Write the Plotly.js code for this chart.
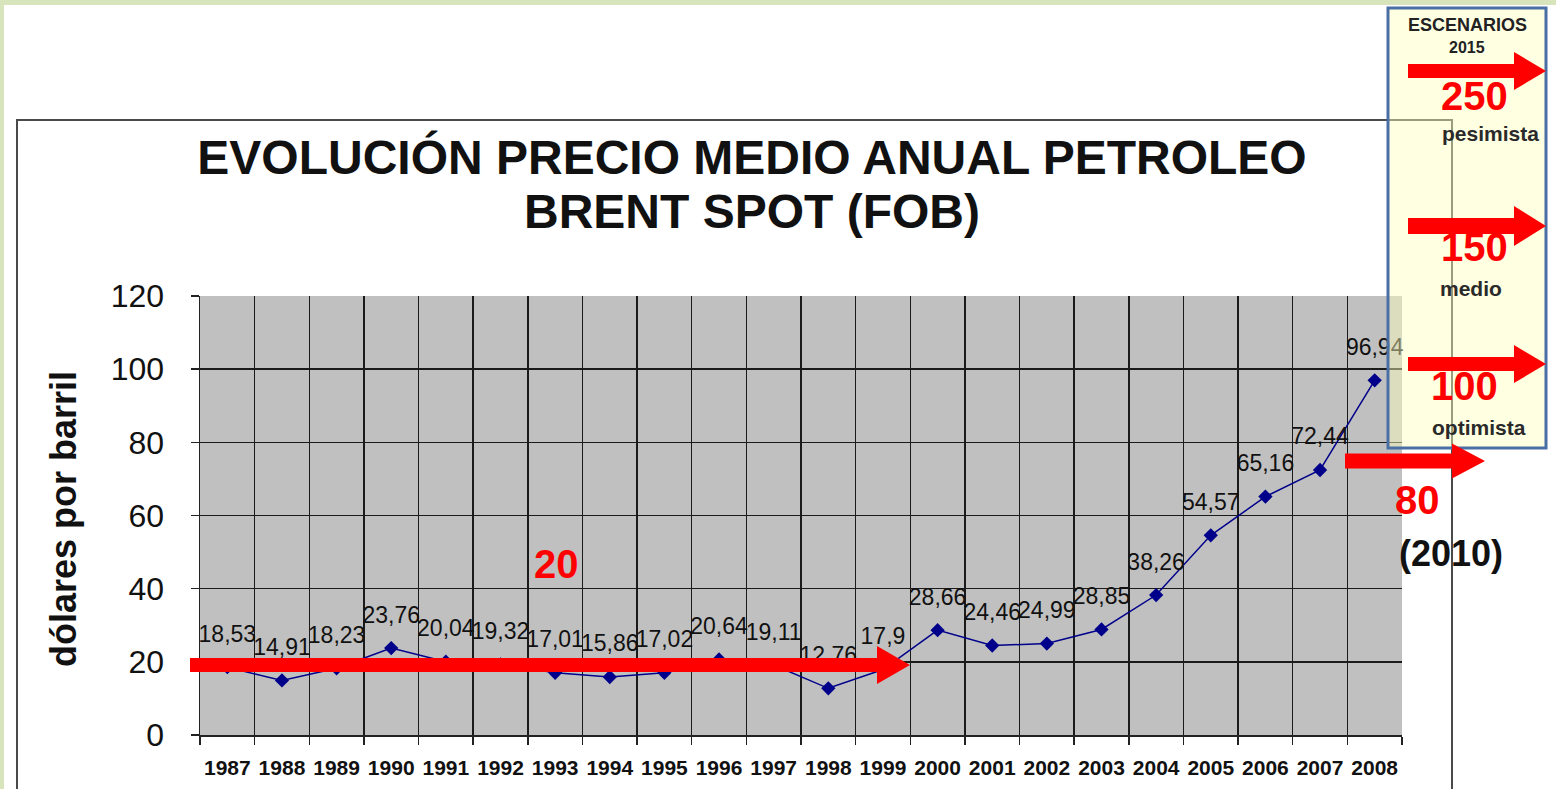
<!DOCTYPE html>
<html><head><meta charset="utf-8">
<script src="https://cdn.plot.ly/plotly-3.0.1.min.js"></script>
<style>
html,body{margin:0;padding:0;background:#d8e4bc;width:1556px;height:789px;overflow:hidden;}
#chart{position:absolute;left:4px;top:5px;width:1552px;height:784px;}
</style></head><body><div id="chart"></div>
<script>
// ---- data ----
const years = ['1987','1988','1989','1990','1991','1992','1993','1994','1995','1996','1997','1998','1999','2000','2001','2002','2003','2004','2005','2006','2007','2008'];
const prices = [18.53,14.91,18.23,23.76,20.04,19.32,17.01,15.86,17.02,20.64,19.11,12.76,17.9,28.66,24.46,24.99,28.85,38.26,54.57,65.16,72.44,96.94];
const yTicks = [0,20,40,60,80,100,120];
const scenarioValues = ['250','150','100'];
const scenarioNames = ['pesimista','medio','optimista'];
const titleLines = ['EVOLUCIÓN PRECIO MEDIO ANUAL PETROLEO','BRENT SPOT (FOB)'];
const yTitle = 'dólares por barril';
const trendLabel = '20';
const target2010 = '80';
const target2010Year = '(2010)';
const scenarioHeader = ['ESCENARIOS','2015'];

// ---- geometry helpers (page pixels -> paper) ----
const OFFX = 4, OFFY = 5, W = 1552, H = 784;
const PL = 200, PR = 1402, PT = 296, PB = 735;
const px = X => (X - PL) / (PR - PL);
const py = Y => (PB - Y) / (PB - PT);
function arrowPath(x0, tip, yc, half, base, headHalf) {
  const pts = [[x0,yc-half],[base,yc-half],[base,yc-headHalf],[tip,yc],[base,yc+headHalf],[base,yc+half],[x0,yc+half]];
  return 'M' + pts.map(p => px(p[0]).toFixed(5) + ',' + py(p[1]).toFixed(5)).join(' L') + ' Z';
}
function arrowShape(x0, tip, yc, half, base, headHalf) {
  return {type:'path', xref:'paper', yref:'paper', layer:'above', path: arrowPath(x0, tip, yc, half, base, headHalf),
          fillcolor:'#ff0000', line:{width:0}};
}
function ann(text, X, Y, size, color, extra) {
  return Object.assign({text: text, xref:'paper', yref:'paper', x: px(X), y: py(Y), xanchor:'center', yanchor:'middle',
    showarrow:false, font:{family:'Liberation Sans, Arial, sans-serif', size:size, color:color, weight:'bold'}}, extra || {});
}

const xIdx = years.map((_, i) => i);
const labels = prices.map(v => String(v).replace('.', ','));

const traces = [
  {x: xIdx, y: prices, type:'scatter', mode:'lines+markers',
   line:{color:'#00008b', width:1.5}, marker:{symbol:'diamond', size:11, color:'#00008b'}, hoverinfo:'skip'},
  {x: xIdx, y: prices, type:'scatter', mode:'markers+text', text: labels, textposition:'top center',
   textfont:{family:'Liberation Sans, Arial, sans-serif', size:23, color:'#111'},
   marker:{size:30, color:'rgba(0,0,0,0)'}, cliponaxis:false, hoverinfo:'skip'}
];

const shapes = [
  {type:'rect', xref:'paper', yref:'paper', layer:'below', x0:px(17), x1:px(1452), y0:py(800), y1:py(120),
   line:{color:'#4a4a4a', width:2}, fillcolor:'rgba(0,0,0,0)'},
  {type:'rect', xref:'paper', yref:'paper', layer:'above', x0:px(1388), x1:px(1546), y0:py(448), y1:py(8),
   line:{color:'#4a6fa5', width:3}, fillcolor:'rgba(255,255,190,0.45)'},
  arrowShape(190, 910, 665, 7, 877, 19),
  arrowShape(1345, 1485, 461, 7.5, 1452, 17.5),
  arrowShape(1408, 1546, 71, 7, 1514, 19),
  arrowShape(1408, 1546, 226, 8, 1514, 20),
  arrowShape(1408, 1546, 364, 7, 1514, 19)
];

const annotations = [
  ann(titleLines[1], 752, 211, 48, '#111'),
  ann(yTitle, 63, 519, 36, '#111', {textangle:-90}),
  ann(trendLabel, 556, 564, 40, '#ff0000'),
  ann(target2010, 1417, 500, 40, '#ff0000'),
  ann(target2010Year, 1451, 553, 36, '#111'),
  ann(scenarioHeader[0], 1467, 25, 18, '#222'),
  ann(scenarioHeader[1], 1467, 48, 16, '#222'),
  ann(scenarioValues[0], 1474, 96, 40, '#ff0000'),
  ann(scenarioNames[0], 1490, 133, 21, '#2a2a2a'),
  ann(scenarioValues[1], 1474, 247, 40, '#ff0000'),
  ann(scenarioNames[1], 1471, 289, 21, '#2a2a2a'),
  ann(scenarioValues[2], 1464, 386, 40, '#ff0000'),
  ann(scenarioNames[2], 1479, 427, 21, '#2a2a2a')
];

const layout = {
  width: W, height: H,
  margin: {l: PL - OFFX, r: W + OFFX - PR, t: PT - OFFY, b: H + OFFY - PB, pad: 0},
  paper_bgcolor: '#ffffff', plot_bgcolor: '#c0c0c0',
  showlegend: false,
  title: {text: titleLines[0], xref:'container', yref:'container', x: (752 - OFFX) / W, xanchor:'center',
          y: 1 - (157 - OFFY) / H, yanchor:'middle',
          font: {family:'Liberation Sans, Arial, sans-serif', size:48, color:'#111', weight:'bold'}},
  xaxis: {type:'linear', range:[-0.5, xIdx.length - 0.5], tickmode:'array', tickvals: xIdx, ticktext: years,
          showgrid:false, zeroline:false, ticks:'', showline:true, linecolor:'#222', linewidth:1.5, tickangle:0,
          ticklabelstandoff:13,
          tickfont:{family:'Liberation Sans Narrow, Liberation Sans, Arial, sans-serif', size:21, color:'#111', weight:'bold', stretch:'condensed'},
          minor:{tick0:-0.5, dtick:1, showgrid:true, gridcolor:'#1a1a1a', gridwidth:1.5, ticks:'outside', ticklen:8, tickcolor:'#222', tickwidth:1.5},
          fixedrange:true},
  yaxis: {range:[0,120], tickmode:'array', tickvals:yTicks, showgrid:true, gridcolor:'#1a1a1a', gridwidth:1.5,
          zeroline:false, showline:true, linecolor:'#222', linewidth:1.5, ticks:'outside', ticklen:8, tickcolor:'#222', tickwidth:1.5,
          tickfont:{family:'Liberation Sans, Arial, sans-serif', size:32, color:'#111'}, ticklabelstandoff:20, fixedrange:true},
  shapes: shapes,
  annotations: annotations
};

Plotly.newPlot('chart', traces, layout, {displayModeBar:false, staticPlot:true});
</script></body></html>
